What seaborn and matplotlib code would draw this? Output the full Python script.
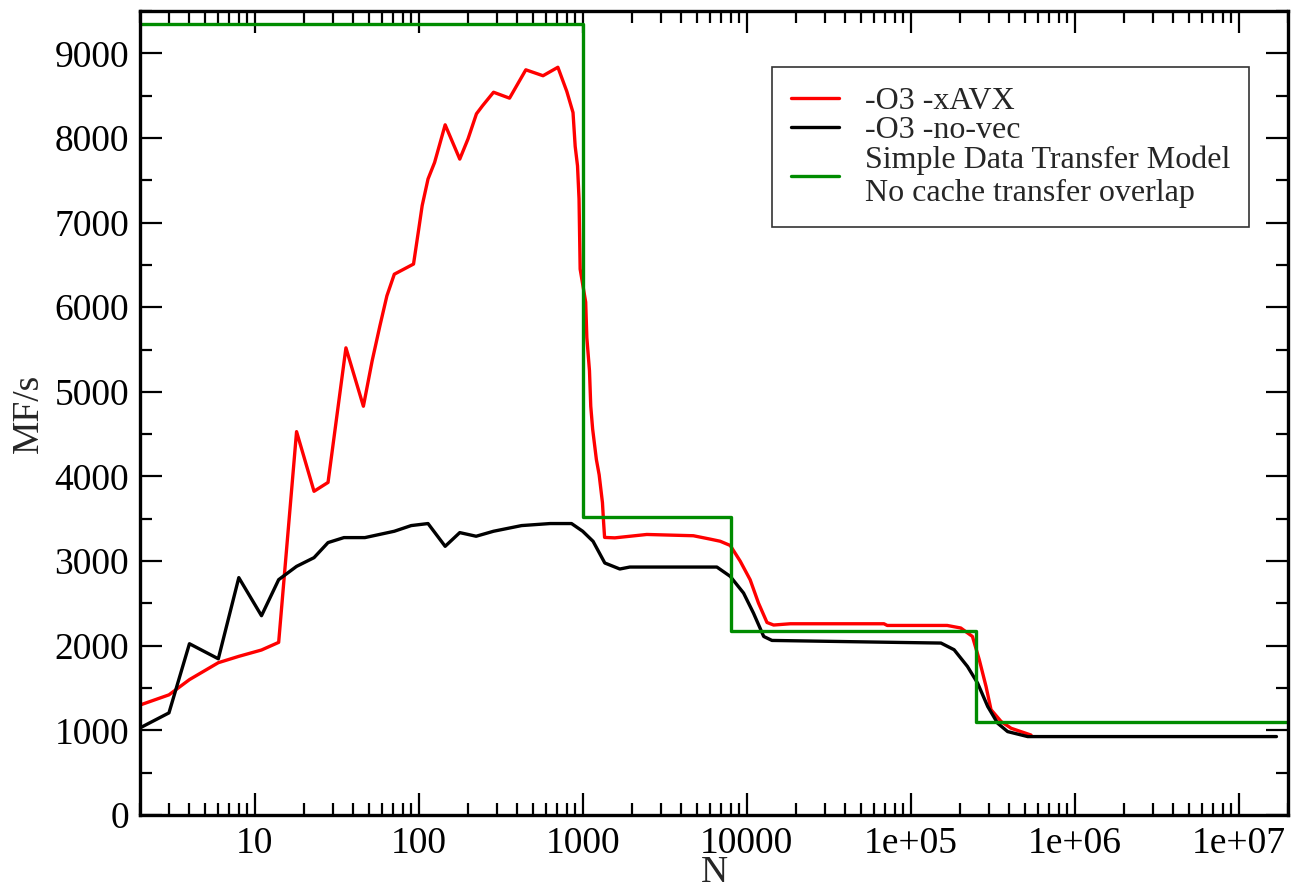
import numpy as np
import pandas as pd
import matplotlib
matplotlib.use("Agg")
import matplotlib.pyplot as plt
from matplotlib.ticker import FixedLocator, FixedFormatter, LogLocator, MultipleLocator, NullFormatter
import seaborn as sns

# -O3 -xAVX
n_avx = [2, 3, 4, 6, 8, 11, 14, 18, 23, 28, 36, 46, 52, 58, 64, 71, 93, 100, 105,
         114, 125, 145, 178, 200, 225, 245, 286, 358, 450, 573, 706, 800, 873, 900,
         930, 950, 965, 1043, 1060, 1100, 1120, 1150, 1212, 1260, 1320, 1340, 1360,
         1570, 2460, 4730, 5990, 6890, 7940, 9130, 10500, 11800, 13300, 14600, 18450,
         68700, 72000, 167000, 202000, 238000, 262000, 288000, 309000, 356000,
         410000, 542000]
mf_avx = [1300, 1420, 1600, 1800, 1875, 1950, 2040, 4530, 3825, 3930, 5520, 4830,
          5365, 5780, 6135, 6390, 6510, 6920, 7200, 7515, 7710, 8155, 7750, 7990,
          8285, 8380, 8540, 8470, 8805, 8735, 8835, 8550, 8300, 7900, 7670, 7280,
          6450, 6060, 5640, 5250, 4830, 4560, 4200, 4020, 3690, 3470, 3280, 3275,
          3315, 3300, 3260, 3235, 3185, 3000, 2780, 2505, 2275, 2245, 2260, 2260,
          2240, 2240, 2210, 2110, 1835, 1520, 1245, 1105, 1025, 945]

# -O3 -no-vec
n_novec = [2, 3, 4, 6, 8, 11, 14, 18, 23, 28, 35, 47, 71, 90, 114, 145, 178, 224,
           286, 424, 633, 855, 1000, 1157, 1364, 1684, 1937, 6580, 7940, 9570,
           11000, 12700, 14260, 86900, 153000, 184000, 222000, 256000, 295000,
           339000, 390000, 517000, 17000000]
mf_novec = [1030, 1207, 2024, 1846, 2805, 2355, 2781, 2938, 3041, 3219, 3278, 3278,
            3353, 3420, 3444, 3175, 3337, 3294, 3353, 3420, 3444, 3444, 3353, 3234,
            2978, 2907, 2930, 2930, 2820, 2623, 2386, 2110, 2063, 2039, 2032, 1953,
            1755, 1558, 1282, 1085, 986, 927, 927]

# simple data transfer model (step function)
n_model = [2, 1000, 8000, 250000, 20000000]
mf_model = [9350, 3520, 2170, 1100, 1100]

xtick_pos = [10, 100, 1000, 10000, 1e5, 1e6, 1e7]
xtick_labels = ["10", "100", "1000", "10000", "1e+05", "1e+06", "1e+07"]

sns.set_style("ticks")
plt.rcParams["font.family"] = ["Liberation Serif", "DejaVu Serif"]

fig = plt.figure(figsize=(12.91, 8.93), dpi=100)
ax = fig.add_axes([0.1085, 0.0873, 0.8892, 0.9004])

lw = 2.4
sns.lineplot(x=n_avx, y=mf_avx, ax=ax, color="#ff0000", linewidth=lw,
             sort=False, estimator=None, label="-O3 -xAVX")
sns.lineplot(x=n_novec, y=mf_novec, ax=ax, color="black", linewidth=lw,
             sort=False, estimator=None, label="-O3 -no-vec")
sns.lineplot(x=n_model, y=mf_model, ax=ax, color="#008c00", linewidth=lw,
             sort=False, estimator=None, drawstyle="steps-post",
             label="Simple Data Transfer Model\nNo cache transfer overlap")

ax.set_xscale("log")
ax.set_xlim(2, 2e7)
ax.set_ylim(0, 9500)

ax.xaxis.set_major_locator(FixedLocator(xtick_pos))
ax.xaxis.set_major_formatter(FixedFormatter(xtick_labels))
ax.xaxis.set_minor_locator(LogLocator(base=10, subs=np.arange(2, 10), numticks=20))
ax.xaxis.set_minor_formatter(NullFormatter())
ax.yaxis.set_major_locator(MultipleLocator(1000))
ax.yaxis.set_minor_locator(MultipleLocator(500))

ax.tick_params(which="both", direction="in", top=True, right=True,
               labelsize=27, width=1.6, colors="black")
ax.tick_params(which="major", length=16, pad=8)
ax.tick_params(which="minor", length=8.5)
for sp in ax.spines.values():
    sp.set_linewidth(2.4)
    sp.set_color("black")

ax.set_xlabel("N", fontsize=27, labelpad=-4)
ax.set_ylabel("MF/s", fontsize=27, labelpad=6)

leg = ax.legend(loc="upper left", bbox_to_anchor=(0.5505, 0.930), borderaxespad=0,
                fontsize=23, frameon=True, fancybox=False, shadow=False,
                handlelength=1.5, handletextpad=0.8, labelspacing=0.0,
                borderpad=0.6)
leg.get_frame().set_edgecolor("black")
leg.get_frame().set_linewidth(1.2)

fig.savefig("out.png", dpi=100)
